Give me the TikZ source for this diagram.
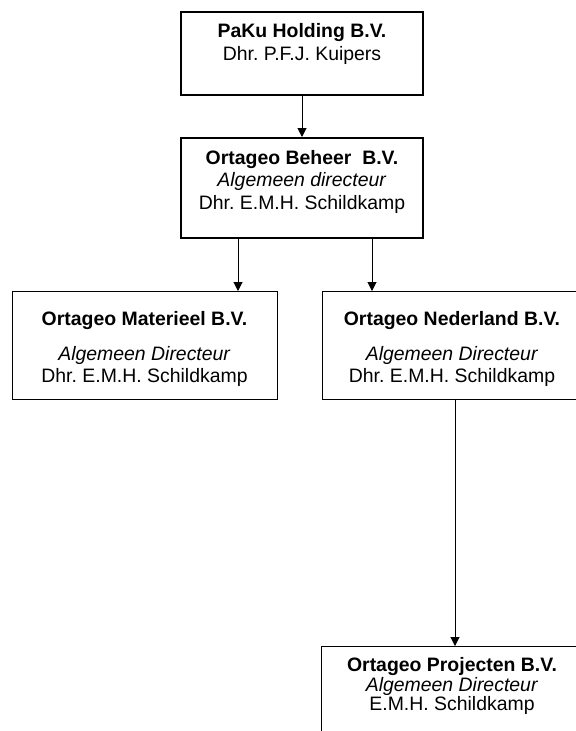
\documentclass[tikz,border=0pt]{standalone}
\usepackage{fontspec}
\setmainfont{Liberation Sans}
\usepackage{tikz}
\usetikzlibrary{arrows.meta,positioning}
\frenchspacing

\begin{document}
\begin{tikzpicture}[
    box/.style={draw,align=center,anchor=north,inner xsep=0pt,inner ysep=0pt,line width=1bp,
        font=\fontsize{19.5}{22.5}\selectfont},
    heavy/.style={line width=2bp},
    link/.style={-{Triangle[length=9bp,width=9bp]},line width=1bp}]
    \useasboundingbox (0bp,0bp) rectangle (576bp,-731bp);
    \clip (0bp,0bp) rectangle (576bp,-731bp);
    \node (paku) at (302bp,-11bp)[box,heavy,minimum width=242bp,text height=48bp,text depth=35bp]
        {\textbf{PaKu Holding B.V.}\\Dhr. P.F.J. Kuipers};
    \node (beheer) at (302bp,-137bp)[box,heavy,minimum width=242bp,text height=71bp,text depth=29bp]
        {\textbf{Ortageo Beheer~ B.V.}\\\textit{Algemeen directeur}\\Dhr. E.M.H. Schildkamp};
    \node (materieel) at (144.5bp,-291bp)[box,minimum width=265bp,text height=91bp,text depth=17bp]
        {\textbf{Ortageo Materieel B.V.}\\[12bp]\textit{Algemeen Directeur}\\Dhr. E.M.H. Schildkamp};
    \node (nederland) at (452bp,-291bp)[box,minimum width=260bp,text height=91bp,text depth=17bp]
        {\textbf{Ortageo Nederland B.V.}\\[12bp]\textit{Algemeen Directeur}\\Dhr. E.M.H. Schildkamp};
    \node (projecten) at (452bp,-646bp)[box,minimum width=262bp,text height=64bp,text depth=40bp]
        {\textbf{Ortageo Projecten B.V.}\\[-3bp]\textit{Algemeen Directeur}\\[-3bp]E.M.H. Schildkamp};
    \draw [link] (paku) -- (beheer);
    \draw [link] ([xshift=-64bp]beheer.south) -- ([xshift=-64bp]beheer.south |- materieel.north);
    \draw [link] ([xshift=70bp]beheer.south) -- ([xshift=70bp]beheer.south |- nederland.north);
    \draw [link] ([xshift=3bp]nederland.south) -- ([xshift=3bp]nederland.south |- projecten.north);
\end{tikzpicture}
\end{document}
